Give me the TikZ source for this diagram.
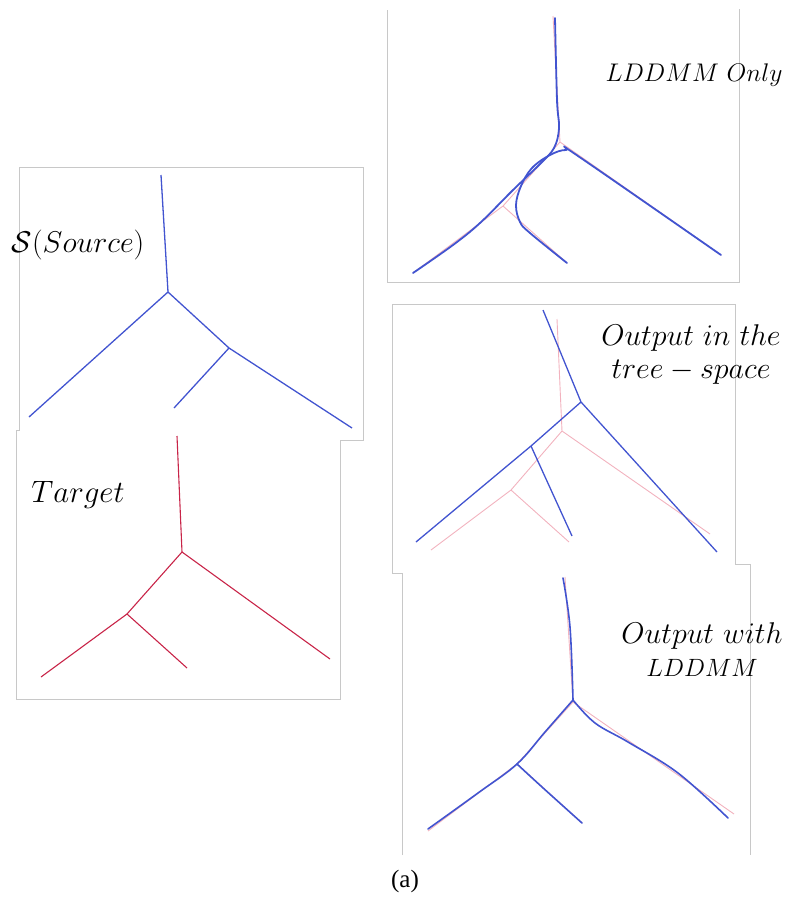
\RequirePackage{fix-cm}
\documentclass[tikz,border=0pt]{standalone}
\usepackage{amsmath,amssymb}
\usepackage{fontspec}
\newfontfamily\capfont{Liberation Serif}
\usepackage{tikz}
\usetikzlibrary{positioning}
\definecolor{TreeBlue}{RGB}{66,84,208}
\definecolor{TreeRed}{RGB}{200,36,72}
\definecolor{TreePink}{RGB}{242,178,190}
\definecolor{FrameGray}{RGB}{200,200,200}
\tikzset{
	frame/.style={draw=FrameGray,line width=.9pt},
	srcbranch/.style={draw=TreeBlue,line width=1.3pt},
	tgtbranch/.style={draw=TreeRed,line width=1.1pt},
	ghost/.style={draw=TreePink,line width=.9pt},
	warped/.style={draw=TreeBlue,line width=1.8pt,line cap=round,line join=round},
	panelname/.style={font=\fontsize{30}{33}\selectfont,align=center,inner sep=0pt}
}

\begin{document}
\begin{tikzpicture}[x=1pt,y=-1pt]
				
				\useasboundingbox (0,0) rectangle (788,898);
				
				% frames
				\draw[frame] (19,167) -- (363,167) -- (363,440) -- (340,440) -- (340,699) -- (16,699) -- (16,430) -- (19,430) -- cycle;
				\draw[frame] (387,10) -- (387,282) -- (739,282) -- (739,9);
				\draw[frame] (402,855) -- (402,573) -- (392,573) -- (392,304) -- (735,304) -- (735,564) -- (750,564) -- (750,855);
				
				% source
				\coordinate (s0) at (161,175);
				\coordinate (s1) at (168,292);
				\coordinate (s2) at (229,348);
				\coordinate (sL) at (29,417);
				\coordinate (sI) at (174,408);
				\coordinate (sR) at (352,428);
				\draw[srcbranch] (s0) -- (s1) -- (sL);
				\draw[srcbranch] (s1) -- (s2) -- (sR);
				\draw[srcbranch] (s2) -- (sI);
				
				% target
				\coordinate (t0) at (177,436);
				\coordinate (t1) at (182,552);
				\coordinate (t2) at (127,614);
				\coordinate (tL) at (41,677);
				\coordinate (tI) at (187,668);
				\coordinate (tR) at (330,659);
				\draw[tgtbranch] (t0) -- (t1) -- (tR);
				\draw[tgtbranch] (t1) -- (t2) -- (tL);
				\draw[tgtbranch] (t2) -- (tI);
				
				% lddmm only
				\coordinate (a0) at (553,16);
				\coordinate (a1) at (560,142);
				\coordinate (a2) at (503,206);
				\coordinate (aL) at (413,273);
				\coordinate (aI) at (567,263);
				\coordinate (aR) at (721,255);
				\draw[ghost] (a0) -- (a1) -- (aR);
				\draw[ghost] (a1) -- (a2) -- (aL);
				\draw[ghost] (a2) -- (aI);
				\draw[warped] plot[smooth,tension=.6] coordinates {(555,18) (557,100) (559,128) (554,148) (540,164) (513,190) (480,223) (453,245) (413,273)};
				\draw[warped] plot[smooth,tension=.6] coordinates {(721,255) (578,156) (566,150) (550,155) (532,168) (521,186) (516,205) (520,222) (530,233) (567,263)};
				
				% tree-space output
				\coordinate (b0) at (557,319);
				\coordinate (b1) at (562,431);
				\coordinate (b2) at (511,490);
				\coordinate (bL) at (431,550);
				\coordinate (bI) at (569,542);
				\coordinate (bR) at (710,534);
				\draw[ghost] (b0) -- (b1) -- (bR);
				\draw[ghost] (b1) -- (b2) -- (bL);
				\draw[ghost] (b2) -- (bI);
				\coordinate (c0) at (543,310);
				\coordinate (c1) at (581,402);
				\coordinate (c2) at (531,446);
				\coordinate (cL) at (416,542);
				\coordinate (cI) at (572,536);
				\coordinate (cR) at (717,552);
				\draw[srcbranch] (c0) -- (c1) -- (cR);
				\draw[srcbranch] (c1) -- (c2) -- (cL);
				\draw[srcbranch] (c2) -- (cI);
				
				% output with lddmm
				\coordinate (d0) at (565,577);
				\coordinate (d1) at (573,702);
				\coordinate (d2) at (517,764);
				\coordinate (dL) at (428,831);
				\coordinate (dI) at (582,823);
				\coordinate (dR) at (734,814);
				\draw[ghost] (d0) -- (d1) -- (dR);
				\draw[ghost] (d1) -- (d2) -- (dL);
				\draw[ghost] (d2) -- (dI);
				\draw[warped,line width=1.6pt] plot[smooth,tension=.6] coordinates {(563,578) (570,627) (573,700)};
				\draw[warped,line width=1.6pt] plot[smooth,tension=.6] coordinates {(573,700) (595,723) (628,742) (678,773) (728,818)};
				\draw[warped,line width=1.6pt] plot[smooth,tension=.6] coordinates {(573,700) (545,732) (517,764) (478,793) (428,829)};
				\draw[warped,line width=1.6pt] plot[smooth,tension=.6] coordinates {(517,764) (542,787) (582,823)};
				
				% names
				\node[panelname] (srcname) at (78,245) {$\mathcal{S}(Source)$};
				\node[panelname,font=\fontsize{31}{33}\selectfont] (tgtname) at (78,495) {$Target$};
				\node[panelname,font=\fontsize{25.5}{33}\selectfont] (lddmmname) at (694,75) {$LDDMM\ Only$};
				\node[panelname] (treename) at (691,354) {$Output\ in\ the$\\$tree-space$};
				\node[panelname] (withname) at (702,650) {$Output\ with$\\{\fontsize{25}{33}\selectfont$LDDMM$}};
				\node[inner sep=0pt] (caption) at (405,881) {\capfont\fontsize{25}{28}\selectfont (a)};
				
\end{tikzpicture}
\end{document}
